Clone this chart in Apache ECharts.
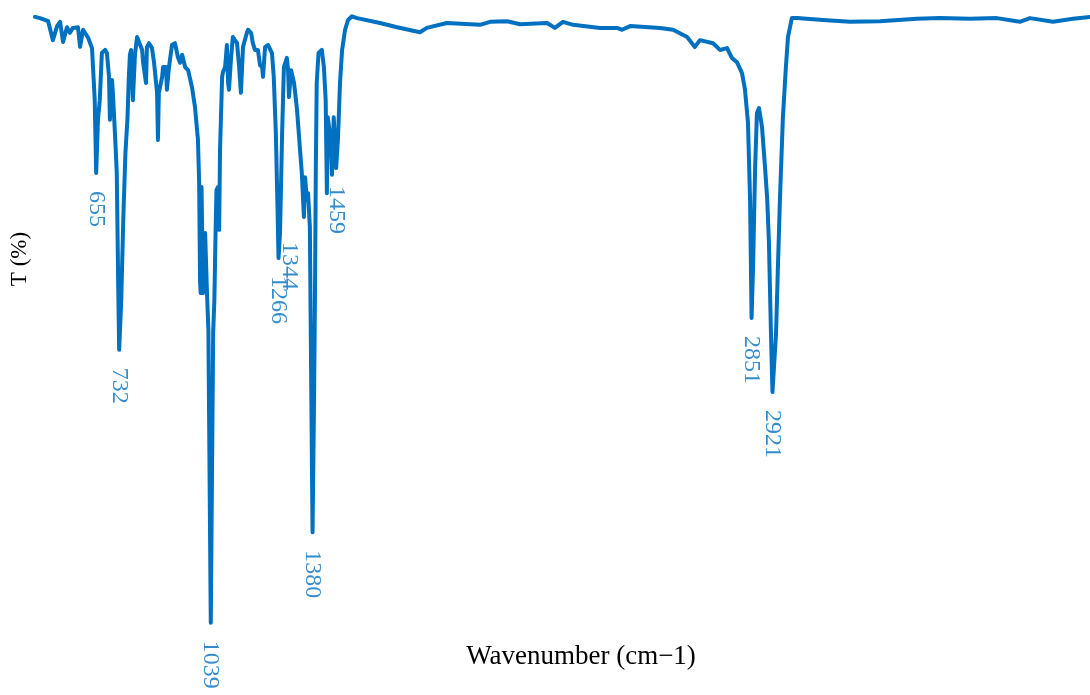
<!DOCTYPE html>
<html>
<head>
<meta charset="utf-8">
<script src="https://cdn.jsdelivr.net/npm/echarts@6/dist/echarts.min.js"></script>
<style>html,body{margin:0;padding:0;background:#fff}#c{width:1090px;height:695px}</style>
</head>
<body>
<div id="c"></div>
<script>
// ---- data ----
const wavenumber = [
  450,467,494,510,524,534,544,557,567,577,594,601,611,628,641,650,655,661,667,674,
  685,691,698,701,708,711,719,724,729,732,739,746,753,760,764,768,772,778,785,792,
  798,809,812,822,825,832,842,849,859,862,865,876,879,889,892,899,909,919,929,936,
  943,953,963,976,986,996,1000,1003,1005,1008,1013,1020,1026,1031,1039,1047,1051,1055,1058,1063,
  1067,1070,1077,1080,1087,1093,1097,1100,1107,1113,1120,1127,1134,1140,1147,1160,1164,1174,1180,1187,
  1197,1204,1211,1214,1221,1231,1244,1250,1257,1262,1266,1271,1278,1284,1294,1298,1301,1308,1311,1318,
  1328,1338,1344,1351,1355,1361,1365,1371,1376,1380,1385,1388,1391,1394,1400,1411,1418,1424,1428,1431,
  1441,1445,1451,1459,1465,1472,1479,1489,1499,1512,1529,1606,1663,1740,1763,1830,1941,1975,2032,2075,
  2166,2192,2219,2253,2343,2400,2417,2444,2544,2588,2635,2661,2678,2722,2745,2769,2785,2802,2819,2829,
  2839,2846,2851,2856,2863,2869,2876,2886,2896,2903,2909,2916,2921,2933,2939,2946,2956,2966,2973,2986,
  3003,3090,3181,3281,3405,3482,3583,3673,3750,3784,3861,3928,3985
];
const transmittance = [
  99.2,99.0,98.5,95.4,97.7,98.4,95.1,97.5,96.6,97.4,97.5,94.3,97.1,95.8,94.1,85.8,73.7,82.4,85.6,93.3,
  93.8,93.3,89.4,82.4,88.9,86.8,79.1,73.7,54.6,44.8,52.9,66.5,77.0,82.8,88.9,93.0,93.8,85.6,93.0,95.9,
  96.2,93.8,91.8,88.4,94.3,94.9,94.1,91.7,86.8,79.1,86.8,89.4,91.0,91.0,87.3,91.0,94.6,94.9,92.6,91.7,
  93.0,91.0,90.5,87.7,84.5,79.1,72.1,56.2,54.1,71.4,54.1,63.9,54.6,48.0,0.2,47.7,52.9,63.9,70.9,71.4,
  64.4,77.5,89.4,90.2,91.0,94.6,88.4,87.3,92.6,95.9,95.4,94.9,91.0,86.8,94.3,96.6,97.1,96.6,94.9,93.8,
  93.8,91.3,91.0,89.4,94.3,94.6,93.3,89.4,80.2,69.3,59.8,63.9,80.2,91.0,92.5,90.5,86.1,90.5,90.8,88.4,
  84.0,77.5,73.7,66.5,73.0,69.3,70.4,64.9,36.6,15.0,36.6,52.9,74.7,88.4,93.3,93.8,91.0,85.6,70.4,82.8,
  79.1,73.4,82.8,74.5,79.1,88.4,93.8,97.1,98.7,99.3,99.0,98.2,97.5,96.7,97.4,98.2,97.9,98.4,98.5,98.0,
  98.2,97.4,98.4,97.9,97.4,97.4,97.1,97.7,97.4,97.1,95.9,94.3,95.4,94.9,93.8,94.1,92.5,91.8,90.0,87.3,
  81.9,69.3,50.0,58.3,74.7,83.5,84.3,81.2,74.7,69.8,62.7,47.5,37.9,47.5,57.8,69.3,82.8,91.0,95.9,99.0,
  99.0,98.7,98.4,98.5,98.9,99.0,98.9,99.0,98.4,99.0,98.4,98.9,99.2
];
const peakWavenumber = [655, 732, 1039, 1266, 1344, 1380, 1459, 2851, 2921];
const peakTransmittance = [73.7, 44.8, 0.2, 59.8, 73.7, 15.0, 74.5, 50.0, 37.9];
const peakLabel = ['655', '732', '1039', '1266', '1344', '1380', '1459', '2851', '2921'];
const xAxisTitle = 'Wavenumber (cm\u22121)';
const yAxisTitle = 'T (%)';

// ---- style ----
const LINE_COLOR = '#0070C0';
const FONT = "'Liberation Serif', 'Times New Roman', Times, serif";
// label anchor relative to its peak (screen px), used where the reference moved a label aside
const labelShift = { '1344': [-13, 69] };

const chart = echarts.init(document.getElementById('c'), null, { renderer: 'canvas' });

const spectrum = wavenumber.map((w, i) => [w, transmittance[i]]);
const peaks = peakWavenumber.map((w, i) => {
  const item = { name: peakLabel[i], value: [w, peakTransmittance[i]] };
  if (labelShift[peakLabel[i]]) item.label = { position: labelShift[peakLabel[i]] };
  return item;
});

chart.setOption({
  animation: false,
  backgroundColor: '#ffffff',
  textStyle: { fontFamily: FONT },
  grid: { left: 35, right: 0, top: 12, bottom: 71, containLabel: false },
  xAxis: {
    type: 'value', min: 450, max: 3985,
    axisLine: { show: false }, axisTick: { show: false },
    axisLabel: { show: false }, splitLine: { show: false }
  },
  yAxis: {
    type: 'value', min: 0, max: 100,
    axisLine: { show: false }, axisTick: { show: false },
    axisLabel: { show: false }, splitLine: { show: false }
  },
  series: [
    {
      type: 'line',
      data: spectrum,
      showSymbol: false,
      symbol: 'none',
      clip: false,
      lineStyle: { color: LINE_COLOR, width: 4, join: 'round', cap: 'round' },
      z: 2
    },
    {
      type: 'scatter',
      data: peaks,
      symbolSize: 0,
      clip: false,
      itemStyle: { color: 'rgba(0,0,0,0)' },
      label: {
        show: true,
        formatter: '{b}',
        position: 'bottom',
        distance: 18,
        rotate: -90,
        align: 'left',
        verticalAlign: 'middle',
        color: LINE_COLOR,
        fontSize: 24,
        fontFamily: FONT
      },
      labelLayout: { hideOverlap: false },
      z: 3
    }
  ],
  graphic: [
    {
      type: 'text', x: 581, y: 657,
      style: { text: xAxisTitle, x: 0, y: 0, align: 'center', verticalAlign: 'middle',
               font: '27px ' + FONT, fill: '#000000' }
    },
    {
      type: 'text', x: 20, y: 259, rotation: Math.PI / 2,
      style: { text: yAxisTitle, x: 0, y: 0, align: 'center', verticalAlign: 'middle',
               font: '23px ' + FONT, fill: '#000000' }
    }
  ]
});
</script>
</body>
</html>
